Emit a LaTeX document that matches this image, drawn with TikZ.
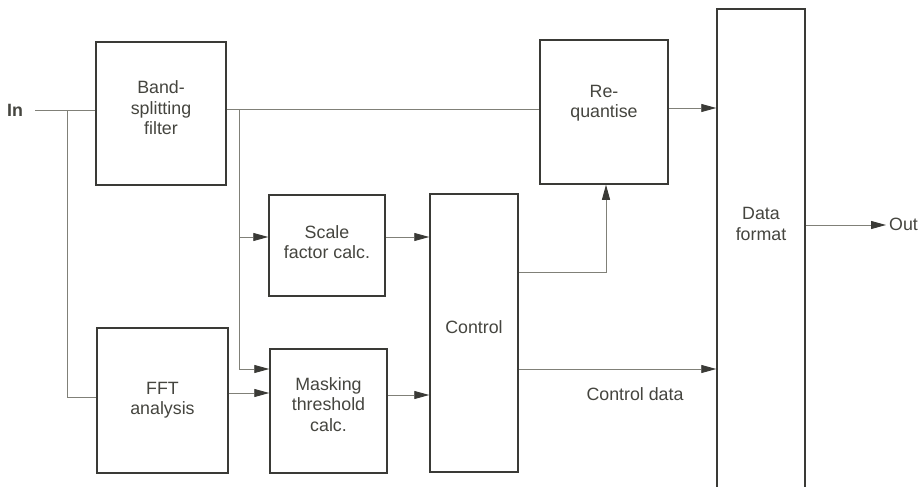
\documentclass[tikz,border=0pt]{standalone}
\usepackage{fontspec}
\setmainfont{Liberation Sans}
\usetikzlibrary{arrows.meta}
\definecolor{boxc}{HTML}{3A3A36}
\definecolor{linec}{HTML}{808078}
\definecolor{txtc}{HTML}{45453F}
\begin{document}
\begin{tikzpicture}[x=1pt,y=-1pt,
  blk/.style={draw=boxc,line width=1.5pt,minimum width=#1,inner sep=0pt,fill=none},
  lbl/.style={text=txtc,font=\fontsize{17.8}{20.5}\selectfont,align=center,inner sep=0pt},
  conn/.style={draw=linec,line width=0.9pt},
  arr/.style={conn,arrows={-{Triangle[length=15pt,width=8pt,fill=boxc,color=boxc]}}}
]
\useasboundingbox (0,0) rectangle (921,487);
\clip (0,0) rectangle (921,487);
\fill[white] (0,0) rectangle (921,487);
% blocks
\node[blk=130pt,minimum height=143pt] (bsf) at (161,113.5) {};
\node[blk=131pt,minimum height=145pt] (fft) at (162.5,400.5) {};
\node[blk=116pt,minimum height=101pt] (sfc) at (327,245.5) {};
\node[blk=117pt,minimum height=124pt] (mtc) at (328.5,411) {};
\node[blk=88pt,minimum height=278pt] (ctl) at (474,333) {};
\node[blk=128pt,minimum height=144pt] (rq) at (604,112) {};
\node[blk=88pt,minimum height=490pt] (df) at (761,254) {};
% block texts
\node[lbl] (bsft) at (161,108) {Band-\\splitting\\filter};
\node[lbl] (fftt) at (162.5,400) {FFT\\analysis};
\node[lbl] (sfct) at (327,242) {Scale\\factor calc.};
\node[lbl] (mtct) at (328.5,404.5) {Masking\\threshold\\calc.};
\node[lbl] (ctlt) at (474,327) {Control};
\node[lbl] (rqt) at (604,103) {Re-\\quantise};
\node[lbl] (dft) at (761,224) {Data\\format};
% terminals
\node[lbl,font=\fontsize{17.8}{20.5}\selectfont\bfseries,anchor=west] (in) at (7,110) {In};
\node[lbl,anchor=west] (out) at (889,224) {Out};
\node[lbl] (cdata) at (635,394) {Control data};
\coordinate (inS) at (35,110);
\coordinate (br1) at (67,110);
\coordinate (br2) at (239,109);
\coordinate (outE) at (886,225);
% connectors
\draw[conn] (inS) -- (bsf.west |- inS);
\draw[conn] (br1) |- (fft.west |- 0,397);
\draw[conn] (bsf.east |- br2) -- (rq.west |- br2);
\draw[arr] (br2) |- (sfc.west |- 0,237);
\draw[arr] (br2) |- (mtc.west |- 0,369);
\draw[arr] (fft.east |- 0,393) -- (mtc.west |- 0,393);
\draw[arr] (sfc.east |- 0,237) -- (ctl.west |- 0,237);
\draw[arr] (mtc.east |- 0,395) -- (ctl.west |- 0,395);
\draw[arr] (ctl.east |- 0,272) -| (rq.south -| 606,0);
\draw[arr] (rq.east |- 0,108) -- (df.west |- 0,108);
\draw[arr] (ctl.east |- 0,369) -- (df.west |- 0,369);
\draw[arr] (df.east |- outE) -- (outE);
\end{tikzpicture}
\end{document}
